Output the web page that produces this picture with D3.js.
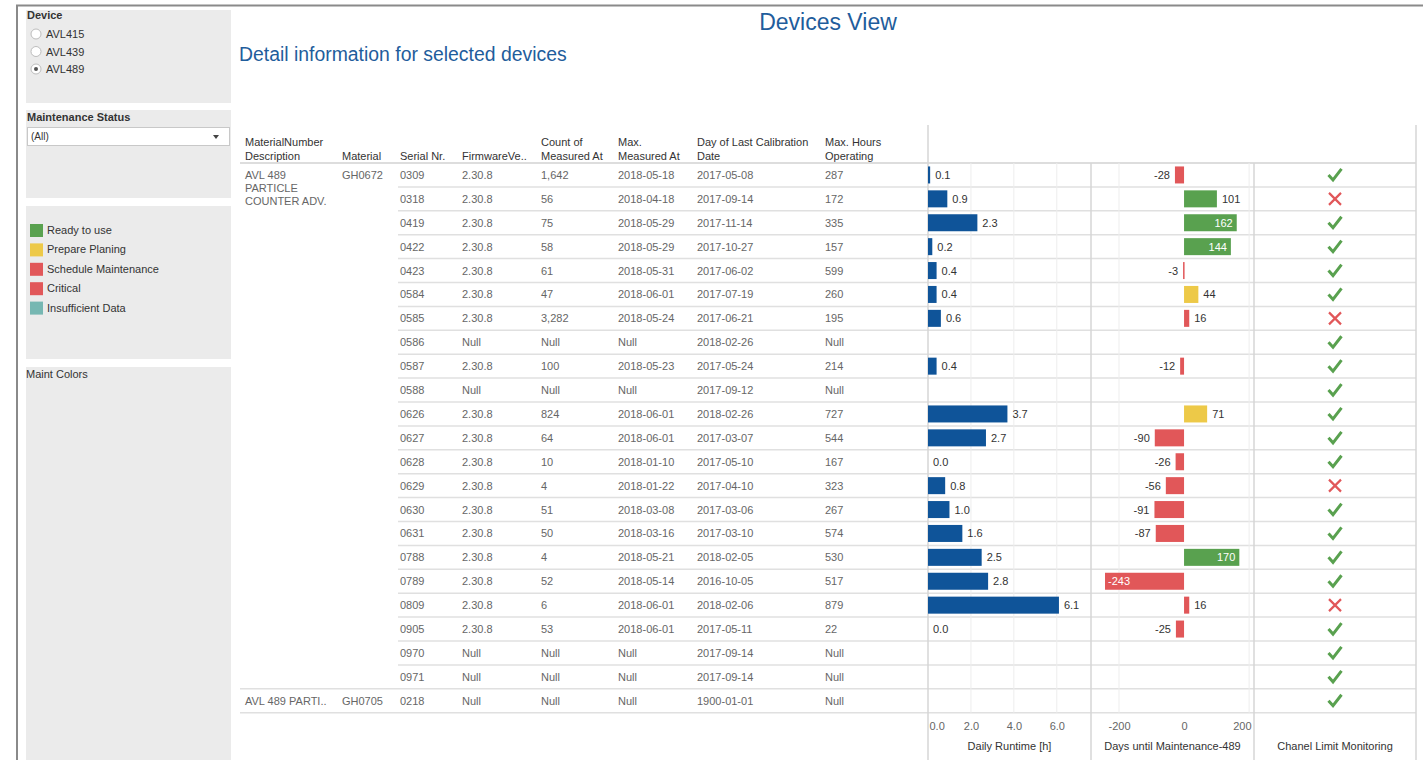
<!DOCTYPE html>
<html>
<head>
<meta charset="utf-8">
<script src="https://cdn.jsdelivr.net/npm/d3@7/dist/d3.min.js"></script>
<style>
body { margin: 0; background: #fff; }
text { font-family: "Liberation Sans", Arial, sans-serif; }
</style>
</head>
<body>
<svg width="1423" height="760"></svg>
<script>
// ---- data ----
const devices = ["AVL415", "AVL439", "AVL489"];
const selectedDevice = "AVL489";

const statusNames = ["Ready to use", "Prepare Planing", "Schedule Maintenance", "Critical", "Insufficient Data"];
const statusColors = ["#59a14f", "#edc948", "#e15759", "#e15759", "#76b7b2"];

const headers = [["MaterialNumber", "Description"], ["Material"], ["Serial Nr."], ["FirmwareVe.."],
  ["Count of", "Measured At"], ["Max.", "Measured At"], ["Day of Last Calibration", "Date"], ["Max. Hours", "Operating"]];

const groupDesc = [["AVL 489", "PARTICLE", "COUNTER ADV."], ["AVL 489 PARTI.."]];
const groupMaterial = ["GH0672", "GH0705"];
const groupStart = [0, 22];

const serials = ["0309","0318","0419","0422","0423","0584","0585","0586","0587","0588","0626","0627",
  "0628","0629","0630","0631","0788","0789","0809","0905","0970","0971","0218"];
const firmware = ["2.30.8","2.30.8","2.30.8","2.30.8","2.30.8","2.30.8","2.30.8","Null","2.30.8","Null","2.30.8","2.30.8",
  "2.30.8","2.30.8","2.30.8","2.30.8","2.30.8","2.30.8","2.30.8","2.30.8","Null","Null","Null"];
const countMeasured = ["1,642","56","75","58","61","47","3,282","Null","100","Null","824","64",
  "10","4","51","50","4","52","6","53","Null","Null","Null"];
const maxMeasured = ["2018-05-18","2018-04-18","2018-05-29","2018-05-29","2018-05-31","2018-06-01","2018-05-24","Null",
  "2018-05-23","Null","2018-06-01","2018-06-01","2018-01-10","2018-01-22","2018-03-08","2018-03-16","2018-05-21",
  "2018-05-14","2018-06-01","2018-06-01","Null","Null","Null"];
const lastCalibration = ["2017-05-08","2017-09-14","2017-11-14","2017-10-27","2017-06-02","2017-07-19","2017-06-21",
  "2018-02-26","2017-05-24","2017-09-12","2018-02-26","2017-03-07","2017-05-10","2017-04-10","2017-03-06","2017-03-10",
  "2018-02-05","2016-10-05","2018-02-06","2017-05-11","2017-09-14","2017-09-14","1900-01-01"];
const maxHours = ["287","172","335","157","599","260","195","Null","214","Null","727","544",
  "167","323","267","574","530","517","879","22","Null","Null","Null"];
const dailyRuntime = [0.1,0.9,2.3,0.2,0.4,0.4,0.6,null,0.4,null,3.7,2.7,0.0,0.8,1.0,1.6,2.5,2.8,6.1,0.0,null,null,null];
const daysUntilMaint = [-28,101,162,144,-3,44,16,null,-12,null,71,-90,-26,-56,-91,-87,170,-243,16,-25,null,null,null];
// index into statusNames
const maintStatus = [2,0,0,0,2,1,2,null,2,null,1,2,2,2,2,2,0,2,2,2,null,null,null];
const limitOk = [true,false,true,true,true,true,false,true,true,true,true,true,
  true,false,true,true,true,true,false,true,true,true,true];

const runtimeTicks = [0, 2, 4, 6];
const daysTicks = [-200, 0, 200];

// ---- layout ----
const svg = d3.select("svg");
const blue = "#1f5d9c";

// frame
svg.append("line").attr("x1", 16).attr("x2", 1423).attr("y1", 5.5).attr("y2", 5.5)
  .attr("stroke", "#8a8a8a").attr("stroke-width", 2);
svg.append("line").attr("x1", 17).attr("x2", 17).attr("y1", 5).attr("y2", 760)
  .attr("stroke", "#8a8a8a").attr("stroke-width", 2);

// left panel boxes
const boxes = [[10, 93], [110, 88], [206, 153], [367, 393]];
svg.selectAll("rect.box").data(boxes).enter().append("rect")
  .attr("x", 26).attr("width", 205).attr("y", d => d[0]).attr("height", d => d[1])
  .attr("fill", "#ebebeb");

svg.append("text").attr("x", 27).attr("y", 19).attr("font-size", 11).attr("font-weight", "bold")
  .attr("fill", "#333").text("Device");
const radio = svg.selectAll("g.radio").data(devices).enter().append("g")
  .attr("transform", (d, i) => `translate(36,${34 + i * 17.5})`);
radio.append("circle").attr("r", 5).attr("fill", "#fff").attr("stroke", "#bdbdbd");
radio.filter(d => d === selectedDevice).append("circle").attr("r", 2).attr("fill", "#555");
radio.append("text").attr("x", 10).attr("y", 4).attr("font-size", 11).attr("fill", "#333").text(d => d);

svg.append("text").attr("x", 27).attr("y", 121).attr("font-size", 11).attr("font-weight", "bold")
  .attr("fill", "#333").text("Maintenance Status");
svg.append("rect").attr("x", 27.5).attr("y", 127.5).attr("width", 202).attr("height", 18)
  .attr("fill", "#fff").attr("stroke", "#c8c8c8");
svg.append("text").attr("x", 31).attr("y", 140).attr("font-size", 10).attr("fill", "#333").text("(All)");
svg.append("path").attr("d", "M213,135 L219,135 L216,139 Z").attr("fill", "#444");

const leg = svg.selectAll("g.leg").data(statusNames).enter().append("g")
  .attr("transform", (d, i) => `translate(30,${224 + i * 19.4})`);
leg.append("rect").attr("width", 13).attr("height", 13).attr("fill", (d, i) => statusColors[i]);
leg.append("text").attr("x", 17).attr("y", 10).attr("font-size", 11).attr("fill", "#333").text(d => d);

svg.append("text").attr("x", 26).attr("y", 378).attr("font-size", 11).attr("fill", "#333").text("Maint Colors");

// titles
svg.append("text").attr("x", 828).attr("y", 30).attr("text-anchor", "middle")
  .attr("font-size", 23).attr("fill", blue).text("Devices View");
svg.append("text").attr("x", 239).attr("y", 61).attr("font-size", 19.4)
  .attr("fill", blue).text("Detail information for selected devices");

// ---- table ----
const n = serials.length;
const rowTop = 163, rowH = 23.9;
const y = d3.scaleBand().domain(d3.range(n)).range([rowTop, rowTop + n * rowH]);
const rowBottom = rowTop + n * rowH;

const colX = [245, 342, 400, 462, 541, 618, 697, 825];
const paneL = 928, paneM1 = 1091, paneM2 = 1254, paneR = 1416;

// row separators
svg.selectAll("line.rowsep").data(d3.range(1, n + 1)).enter().append("line")
  .attr("x1", i => groupStart.includes(i) || i === n ? 240 : 398).attr("x2", paneR)
  .attr("y1", i => y(i - 1) + rowH).attr("y2", i => y(i - 1) + rowH)
  .attr("stroke", "#e0e0e0").attr("stroke-width", 1.5);
svg.append("line").attr("x1", 240).attr("x2", paneR).attr("y1", rowTop).attr("y2", rowTop)
  .attr("stroke", "#d2d2d2").attr("stroke-width", 1.5);

// headers
headers.forEach((h, c) => {
  const t = svg.append("text").attr("x", colX[c]).attr("font-size", 11).attr("fill", "#333");
  h.forEach((line, k) => {
    t.append("tspan").attr("x", colX[c]).attr("y", 160 - (h.length - 1 - k) * 14).text(line);
  });
});

// group cells
groupStart.forEach((s, g) => {
  const t = svg.append("text").attr("font-size", 11).attr("fill", "#666");
  groupDesc[g].forEach((line, k) => {
    t.append("tspan").attr("x", colX[0]).attr("y", y(s) + rowH / 2 + 4 + k * 13).text(line);
  });
  svg.append("text").attr("x", colX[1]).attr("y", y(s) + rowH / 2 + 4).attr("font-size", 11)
    .attr("fill", "#666").text(groupMaterial[g]);
});

const cols = [serials, firmware, countMeasured, maxMeasured, lastCalibration, maxHours];
cols.forEach((arr, c) => {
  svg.selectAll(null).data(arr).enter().append("text")
    .attr("x", colX[c + 2]).attr("y", (d, i) => y(i) + rowH / 2 + 4)
    .attr("font-size", 11).attr("fill", "#666").text(d => d);
});

// ---- bar panes ----
const xRun = d3.scaleLinear().domain([0, 7.5]).range([paneL, paneM1 - 2]);
const xDays = d3.scaleLinear().domain([-283, 212]).range([paneM1 + 1, paneM2 - 1]);

// gridlines
svg.selectAll("line.gr").data(runtimeTicks.slice(1)).enter().append("line")
  .attr("x1", d => xRun(d)).attr("x2", d => xRun(d)).attr("y1", rowTop).attr("y2", rowBottom)
  .attr("stroke", "#ededed");
svg.selectAll("line.gd").data(daysTicks.filter(d => d !== 0)).enter().append("line")
  .attr("x1", d => xDays(d)).attr("x2", d => xDays(d)).attr("y1", rowTop).attr("y2", rowBottom)
  .attr("stroke", "#ededed");

// pane borders
[[paneL, 125], [paneM1, rowTop], [paneM2, rowTop], [paneR, 125]].forEach(([x, y0]) => {
  svg.append("line").attr("x1", x).attr("x2", x).attr("y1", y0).attr("y2", 760)
    .attr("stroke", "#d6d6d6").attr("stroke-width", 1.5);
});

const barH = 17;
const runIdx = d3.range(n).filter(i => dailyRuntime[i] !== null);
svg.selectAll("rect.run").data(runIdx).enter().append("rect")
  .attr("x", xRun(0)).attr("y", i => y(i) + (rowH - barH) / 2)
  .attr("width", i => xRun(dailyRuntime[i]) - xRun(0)).attr("height", barH)
  .attr("fill", "#0f5499");
svg.selectAll("text.run").data(runIdx).enter().append("text")
  .attr("x", i => xRun(dailyRuntime[i]) + 5).attr("y", i => y(i) + rowH / 2 + 4)
  .attr("font-size", 11).attr("fill", "#333").text(i => d3.format(".1f")(dailyRuntime[i]));

const dayIdx = d3.range(n).filter(i => daysUntilMaint[i] !== null);
svg.selectAll("rect.days").data(dayIdx).enter().append("rect")
  .attr("x", i => Math.min(xDays(0), xDays(daysUntilMaint[i])))
  .attr("y", i => y(i) + (rowH - barH) / 2)
  .attr("width", i => Math.max(1.5, Math.abs(xDays(daysUntilMaint[i]) - xDays(0))))
  .attr("height", barH)
  .attr("fill", i => statusColors[maintStatus[i]]);
svg.selectAll("text.days").data(dayIdx).enter().append("text")
  .each(function (i) {
    const v = daysUntilMaint[i], xe = xDays(v), w = String(v).length * 6.2;
    const t = d3.select(this).attr("y", y(i) + rowH / 2 + 4).attr("font-size", 11).text(v);
    if (v >= 0) {
      const inside = xe + 4 + w > paneM2 - 2;
      t.attr("x", inside ? xe - 4 : xe + 5).attr("text-anchor", inside ? "end" : "start")
        .attr("fill", inside ? "#fff" : "#333");
    } else {
      const inside = xe - 4 - w < paneM1 + 2;
      t.attr("x", inside ? xe + 3 : xe - 5).attr("text-anchor", inside ? "start" : "end")
        .attr("fill", inside ? "#fff" : "#333");
    }
  });

// channel limit monitoring marks
const cx = (paneM2 + paneR) / 2;
const marks = svg.selectAll("g.mark").data(d3.range(n)).enter().append("g")
  .attr("transform", i => `translate(${cx},${y(i) + rowH / 2})`);
marks.filter(i => limitOk[i]).append("path")
  .attr("d", "M-6.5,0 L-2,5 L6.5,-6").attr("fill", "none")
  .attr("stroke", "#59a14f").attr("stroke-width", 3).attr("stroke-linejoin", "miter");
marks.filter(i => !limitOk[i]).append("path")
  .attr("d", "M-6,-6 L6,6 M6,-6 L-6,6").attr("fill", "none")
  .attr("stroke", "#e15759").attr("stroke-width", 2.2);

// axes
const axRun = svg.append("g").attr("transform", `translate(0,${rowBottom + 7})`)
  .call(d3.axisBottom(xRun).tickValues(runtimeTicks).tickFormat(d => d.toFixed(1)).tickSize(0));
const axDays = svg.append("g").attr("transform", `translate(0,${rowBottom + 7})`)
  .call(d3.axisBottom(xDays).tickValues(daysTicks).tickFormat(d => String(d)).tickSize(0));
[axRun, axDays].forEach(ax => {
  ax.select(".domain").remove();
  ax.selectAll("text").attr("font-family", "Liberation Sans, Arial, sans-serif")
    .attr("font-size", 11).attr("fill", "#666");
});
axRun.selectAll(".tick").filter(d => d === 0).select("text").attr("text-anchor", "start").attr("x", 1);
axDays.selectAll(".tick").filter(d => d === 200).select("text").attr("text-anchor", "end").attr("x", 2);

const titles = [["Daily Runtime [h]", (paneL + paneM1) / 2], ["Days until Maintenance-489", (paneM1 + paneM2) / 2],
  ["Chanel Limit Monitoring", (paneM2 + paneR) / 2]];
svg.selectAll("text.axt").data(titles).enter().append("text")
  .attr("x", d => d[1]).attr("y", 750).attr("text-anchor", "middle")
  .attr("font-size", 11).attr("fill", "#333").text(d => d[0]);
</script>
</body>
</html>
